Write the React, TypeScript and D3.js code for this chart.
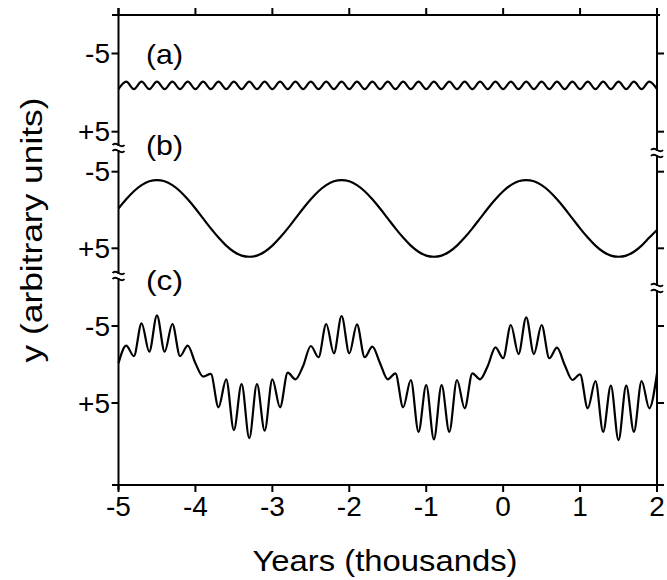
import React from "react";
import * as d3 from "d3";

// sample years (thousands), one every century
const years = [
  -5.0, -4.9, -4.8, -4.7, -4.6, -4.5, -4.4, -4.3, -4.2, -4.1,
  -4.0, -3.9, -3.8, -3.7, -3.6, -3.5, -3.4, -3.3, -3.2, -3.1,
  -3.0, -2.9, -2.8, -2.7, -2.6, -2.5, -2.4, -2.3, -2.2, -2.1,
  -2.0, -1.9, -1.8, -1.7, -1.6, -1.5, -1.4, -1.3, -1.2, -1.1,
  -1.0, -0.9, -0.8, -0.7, -0.6, -0.5, -0.4, -0.3, -0.2, -0.1,
  0.0, 0.1, 0.2, 0.3, 0.4, 0.5, 0.6, 0.7, 0.8, 0.9,
  1.0, 1.1, 1.2, 1.3, 1.4, 1.5, 1.6, 1.7, 1.8, 1.9,
  2.0,
];

// (a) short cycle
const seriesA = [
  -0.45, -1.4, -0.45, -1.4, -0.45, -1.4, -0.45, -1.4, -0.45, -1.4,
  -0.45, -1.4, -0.45, -1.4, -0.45, -1.4, -0.45, -1.4, -0.45, -1.4,
  -0.45, -1.4, -0.45, -1.4, -0.45, -1.4, -0.45, -1.4, -0.45, -1.4,
  -0.45, -1.4, -0.45, -1.4, -0.45, -1.4, -0.45, -1.4, -0.45, -1.4,
  -0.45, -1.4, -0.45, -1.4, -0.45, -1.4, -0.45, -1.4, -0.45, -1.4,
  -0.45, -1.4, -0.45, -1.4, -0.45, -1.4, -0.45, -1.4, -0.45, -1.4,
  -0.45, -1.4, -0.45, -1.4, -0.45, -1.4, -0.45, -1.4, -0.45, -1.4,
  -0.45,
];

// (b) long cycle
const seriesB = [
  -0.2, -1.4, -2.45, -3.25, -3.75, -3.9, -3.75, -3.25, -2.45, -1.4,
  -0.2, 1.1, 2.4, 3.6, 4.65, 5.45, 5.95, 6.1, 5.95, 5.45,
  4.65, 3.6, 2.4, 1.1, -0.2, -1.4, -2.45, -3.25, -3.75, -3.9,
  -3.75, -3.25, -2.45, -1.4, -0.2, 1.1, 2.4, 3.6, 4.65, 5.45,
  5.95, 6.1, 5.95, 5.45, 4.65, 3.6, 2.4, 1.1, -0.2, -1.4,
  -2.45, -3.25, -3.75, -3.9, -3.75, -3.25, -2.45, -1.4, -0.2, 1.1,
  2.4, 3.6, 4.65, 5.45, 5.95, 6.1, 5.95, 5.45, 4.65, 3.6,
  2.6,
];

// (c) combined signal
const seriesC = [
  -0.16, -2.44, -1.1, -5.35, -1.66, -6.39, -1.66, -5.26, -1.1, -2.44,
  -0.16, 1.58, 1.23, 5.56, 1.92, 8.51, 2.53, 9.55, 2.53, 8.6,
  1.92, 5.56, 1.06, 1.92, 0.19, -2.4, -0.94, -5.26, -1.45, -6.3,
  -1.45, -5.22, -0.94, -2.31, -0.16, 1.92, 1.14, 5.56, 2.01, 8.74,
  2.66, 9.73, 2.66, 8.74, 2.01, 5.69, 1.14, 1.92, 0.19, -2.23,
  -0.81, -5.13, -1.36, -6.13, -1.36, -5.13, -0.81, -2.18, 0.06, 2.01,
  1.27, 5.69, 2.14, 8.74, 2.75, 9.81, 2.75, 8.74, 2.14, 5.69,
  1.14,
];

const xTicks = [-5, -4, -3, -2, -1, 0, 1, 2];
const xTickLabels = ["-5", "-4", "-3", "-2", "-1", "0", "1", "2"];
const yTicks = [-5, 5];
const yTickLabels = ["-5", "+5"];
const panelLabels = ["(a)", "(b)", "(c)"];

const FONT = "'Liberation Sans', Arial, sans-serif";

export default function App() {
  const left = 118.5, right = 657, top = 15, bottom = 485;
  const x = d3.scaleLinear().domain([-5, 2]).range([left, right]);

  const panels = [
    { label: panelLabels[0], values: seriesA, y: d3.scaleLinear().domain([-5, 5]).range([53.5, 131.7]), labelY: 54 },
    { label: panelLabels[1], values: seriesB, y: d3.scaleLinear().domain([-5, 5]).range([171.7, 248.3]), labelY: 145 },
    { label: panelLabels[2], values: seriesC, y: d3.scaleLinear().domain([-5, 5]).range([326, 403]), labelY: 280 },
  ];

  const breaksLeft = [148, 276];
  const breaksRight = [153, 288];

  const tilde = (cx: number, cy: number) =>
    `M${cx - 6},${cy} C${cx - 2},${cy - 5} ${cx + 2},${cy + 5} ${cx + 6},${cy}`;

  return (
    <svg width={667} height={580} style={{ position: "absolute", left: 0, top: 0, background: "#fff" }}>
      <g stroke="#000" strokeWidth={2} fill="none">
        <line x1={left} y1={8} x2={left} y2={490} />
        <line x1={right} y1={9} x2={right} y2={490} />
        <line x1={112} y1={top} x2={660} y2={top} />
        <line x1={112} y1={bottom} x2={664} y2={bottom} />
        {xTicks.map((t) => (
          <g key={"xt" + t}>
            <line x1={x(t)} x2={x(t)} y1={top} y2={top - 7} />
            <line x1={x(t)} x2={x(t)} y1={bottom} y2={bottom + 7} />
          </g>
        ))}
        {panels.map((p, pi) =>
          yTicks.map((t) => (
            <g key={"yt" + pi + t}>
              <line x1={left - 7} x2={left} y1={p.y(t)} y2={p.y(t)} />
              <line x1={right} x2={right + 7} y1={p.y(t)} y2={p.y(t)} />
            </g>
          ))
        )}
      </g>

      {/* axis breaks */}
      {[...breaksLeft.map((b) => [left, b]), ...breaksRight.map((b) => [right, b])].map(([bx, by], i) => (
        <g key={"br" + i}>
          <rect x={bx - 3} y={by - 2} width={6} height={4} fill="#fff" />
          <path d={tilde(bx, by - 3)} stroke="#000" strokeWidth={1.8} fill="none" />
          <path d={tilde(bx, by + 3)} stroke="#000" strokeWidth={1.8} fill="none" />
        </g>
      ))}

      {panels.map((p, pi) => {
        const line = d3
          .line<number>()
          .x((_, i) => x(years[i]))
          .y((d) => p.y(d))
          .curve(d3.curveMonotoneX);
        return (
          <g key={"p" + pi}>
            <path d={line(p.values) || ""} stroke="#000" strokeWidth={2.2} fill="none" />
            <text x={146} y={p.labelY} dominantBaseline="central" fontFamily={FONT} fontSize={28} textLength={37} lengthAdjust="spacingAndGlyphs">
              {p.label}
            </text>
            {yTicks.map((t, ti) => (
              <text key={ti} x={110} y={p.y(t)} textAnchor="end" dominantBaseline="central" fontFamily={FONT} fontSize={28}>
                {yTickLabels[ti]}
              </text>
            ))}
          </g>
        );
      })}

      {xTicks.map((t, i) => (
        <text key={"xl" + t} x={x(t)} y={506} textAnchor="middle" dominantBaseline="central" fontFamily={FONT} fontSize={28}>
          {xTickLabels[i]}
        </text>
      ))}

      <text x={385} y={571} textAnchor="middle" fontFamily={FONT} fontSize={29} textLength={265} lengthAdjust="spacingAndGlyphs">
        Years (thousands)
      </text>
      <text
        transform="translate(42,230) rotate(-90)"
        textAnchor="middle"
        fontFamily={FONT}
        fontSize={30}
        textLength={265}
        lengthAdjust="spacingAndGlyphs"
      >
        y (arbitrary units)
      </text>
    </svg>
  );
}
